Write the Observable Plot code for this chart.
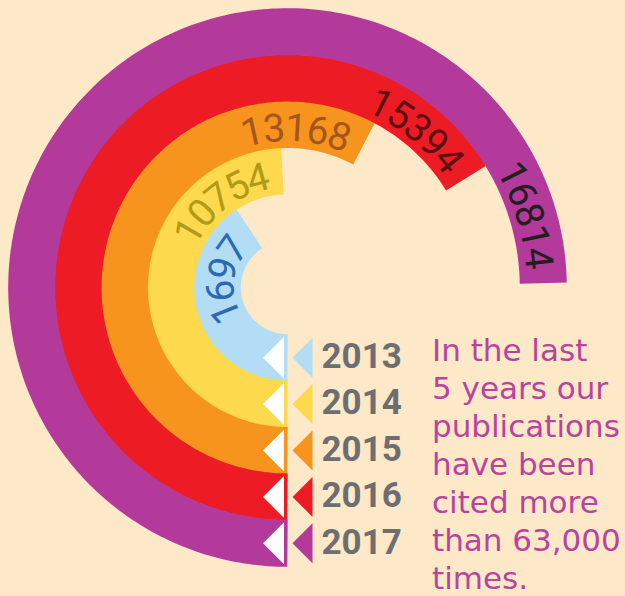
<!DOCTYPE html>
<html><head><meta charset="utf-8">
<script src="https://cdn.jsdelivr.net/npm/d3@7"></script>
<script src="https://cdn.jsdelivr.net/npm/@observablehq/plot@0.6"></script>
<style>
html,body{margin:0;padding:0;background:#fde8c8;}
#wrap{position:relative;width:625px;height:596px;overflow:hidden;background:#fde8c8;}
#note{position:absolute;left:432px;top:331px;font-family:"DejaVu Sans";font-size:31px;line-height:38px;color:#b8449f;white-space:pre;}
</style></head><body>
<div id="wrap"><div id="chart"></div><div id="note"></div></div>
<script>
// ---- data ----
const years = [2013, 2014, 2015, 2016, 2017];
const yearLabels = ["2013", "2014", "2015", "2016", "2017"];
const citations = [1697, 10754, 13168, 15394, 16814];
const citationLabels = ["1697", "10754", "13168", "15394", "16814"];
const ringColors = ["#b3dcf5", "#fdd94e", "#f7941d", "#ed1c24", "#b3399a"];
const labelColors = ["#2c6bb3", "#b39a16", "#a5561d", "#5e0d12", "#231f20"];
const noteLines = ["In the last", "5 years our", "publications", "have been", "cited more", "than 63,000", "times."];

// ---- layout ----
const W = 625, H = 596, cx = 287, cy = 287;
const ring = d3.scaleBand().domain(years).range([47, 279]);
const bw = ring.bandwidth();
const mid = yr => ring(yr) + bw / 2;
// the infographic's arcs grow steadily year by year (from 6 o'clock, clockwise)
const sweep = d3.scaleLinear().domain([years[0], years[years.length - 1]]).range([147, 269]);
const rad = a => a * Math.PI / 180;
const polar = (r, a) => ({x: -r * Math.sin(rad(a)), y: -r * Math.cos(rad(a))});

const arcPts = years.flatMap(yr => {
  const r = mid(yr), end = sweep(yr);
  return d3.range(0, end, 1).concat([end]).map(a => ({year: yr, ...polar(r, a)}));
});

const charW = 22;
const labelChars = years.flatMap((yr, i) => {
  const s = citationLabels[i], r = mid(yr) - 4;
  const endA = sweep(yr) - (14 / r) * 180 / Math.PI;
  return Array.from(s).map((ch, j) => {
    const a = endA - (s.length - j - 0.5) * charW / r * 180 / Math.PI;
    return {ch, year: yr, rotate: a - 180, ...polar(r, a)};
  });
});

const ringData = years.map((yr, i) => ({year: yr, label: yearLabels[i], value: citations[i], x0: 0, y: -mid(yr)}));

const leftTri = {
  draw(ctx, size) {
    const r = Math.sqrt(size / Math.PI), w = r * 1.0, h = r * 2;
    ctx.moveTo(-w / 2, 0); ctx.lineTo(w / 2, -h / 2); ctx.lineTo(w / 2, h / 2); ctx.closePath();
  }
};

const chart = Plot.plot({
  width: W, height: H, margin: 0,
  x: {domain: [-cx, W - cx], axis: null},
  y: {domain: [cy - H, cy], axis: null},
  color: {type: "ordinal", domain: years, range: ringColors},
  style: {background: "transparent"},
  marks: [
    Plot.line(arcPts, {x: "x", y: "y", z: "year", stroke: "year", strokeWidth: bw + 0.6,
      strokeLinecap: "butt", strokeLinejoin: "round", curve: "linear"}),
    ...years.map((yr, i) => Plot.text(labelChars.filter(d => d.year === yr), {
      x: "x", y: "y", text: "ch", rotate: "rotate", fill: labelColors[i],
      fontSize: 39, fontFamily: "Roboto", textAnchor: "middle", lineAnchor: "middle"})),
    Plot.dot(ringData, {x: "x0", y: "y", symbol: leftTri, r: 21, fill: "white", dx: -14}),
    Plot.dot(ringData, {x: "x0", y: "y", symbol: leftTri, r: 20, fill: "year", dx: 15}),
    Plot.text(ringData, {x: "x0", y: "y", text: "label", dx: 34, dy: -1, textAnchor: "start", lineAnchor: "middle",
      fill: "#6d6e71", fontWeight: "bold", fontSize: 35, fontFamily: "Roboto"})
  ]
});
document.getElementById("chart").appendChild(chart);
document.getElementById("note").textContent = noteLines.join("\n");
</script>
</body></html>
